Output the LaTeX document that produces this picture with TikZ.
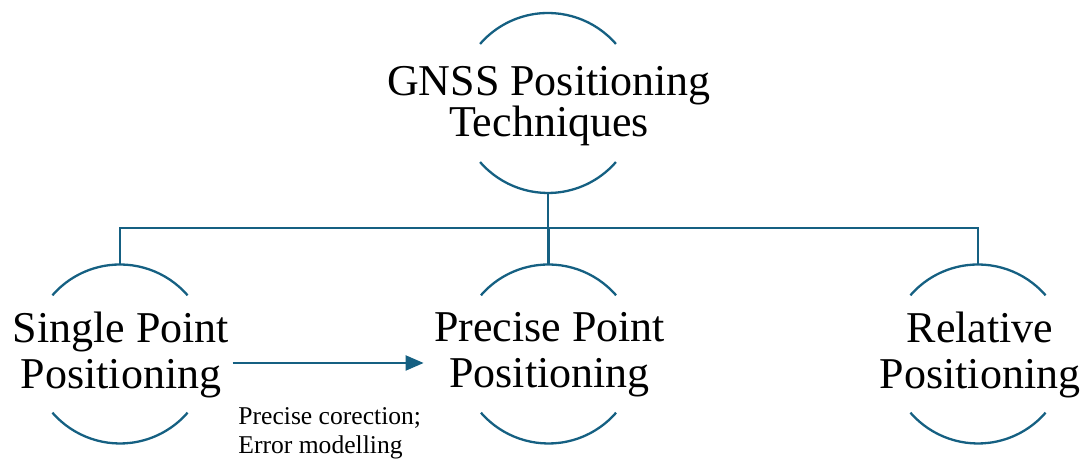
\documentclass[tikz,border=0pt]{standalone}
\usepackage{fontspec}
\setmainfont{Liberation Serif}
\usetikzlibrary{arrows.meta}
\definecolor{linecol}{HTML}{156082}
\begin{document}
\begin{tikzpicture}[x=0.5pt,y=0.5pt,
  ring/.style={circle, minimum size=#1, inner sep=0pt, outer sep=0pt},
  toptext/.style={align=center, inner sep=0pt, font=\fontsize{22}{20.5}\selectfont},
  leaftext/.style={align=center, inner sep=0pt, font=\fontsize{22}{23}\selectfont},
  arcline/.style={draw=linecol, line width=1.15pt},
  link/.style={draw=linecol, line width=1.15pt},
  flow/.style={draw=linecol, line width=1.1pt, -{Triangle[length=9pt,width=7.5pt]}},
  note/.style={align=left, inner sep=0pt, font=\fontsize{12.8}{14.5}\selectfont}]
\useasboundingbox (0,0) rectangle (1084,459);

% rings
\node[ring=90pt] (gC) at (548,356) {};
\node[ring=89.5pt] (sC) at (120,105) {};
\node[ring=89.5pt] (pC) at (548.5,105) {};
\node[ring=89.5pt] (rC) at (978,105) {};

% texts
\node[toptext] (g) at (549,353) {GNSS Positioning\\Techniques};
\node[leaftext] (s) at (121,104) {Single Point\\Positioning};
\node[leaftext] (p) at (549.5,104) {Precise Point\\Positioning};
\node[leaftext] (r) at (980,104) {Relative\\Positioning};

% arcs
\foreach \n/\rad in {gC/45pt, sC/44.75pt, pC/44.75pt, rC/44.75pt}{
  \draw[arcline] (\n.41) arc[start angle=41, end angle=139, radius=\rad];
  \draw[arcline] (\n.221) arc[start angle=221, end angle=319, radius=\rad];
}

% tree connectors
\coordinate (bus) at (548.5,231);
\draw[link] (gC.south) -- (gC.south |- bus);
\draw[link] (sC.north) |- (bus) -| (rC.north);
\draw[link] (pC.north) -- (pC.north |- bus);

% arrow and its label
\draw[flow, shorten <=1.5pt, shorten >=5pt] ([yshift=-4pt]s.east) -- ([yshift=-4pt]p.west);
\node[note, anchor=north west] (lbl) at (238,52) {Precise corection;\\Error modelling};
\end{tikzpicture}
\end{document}
